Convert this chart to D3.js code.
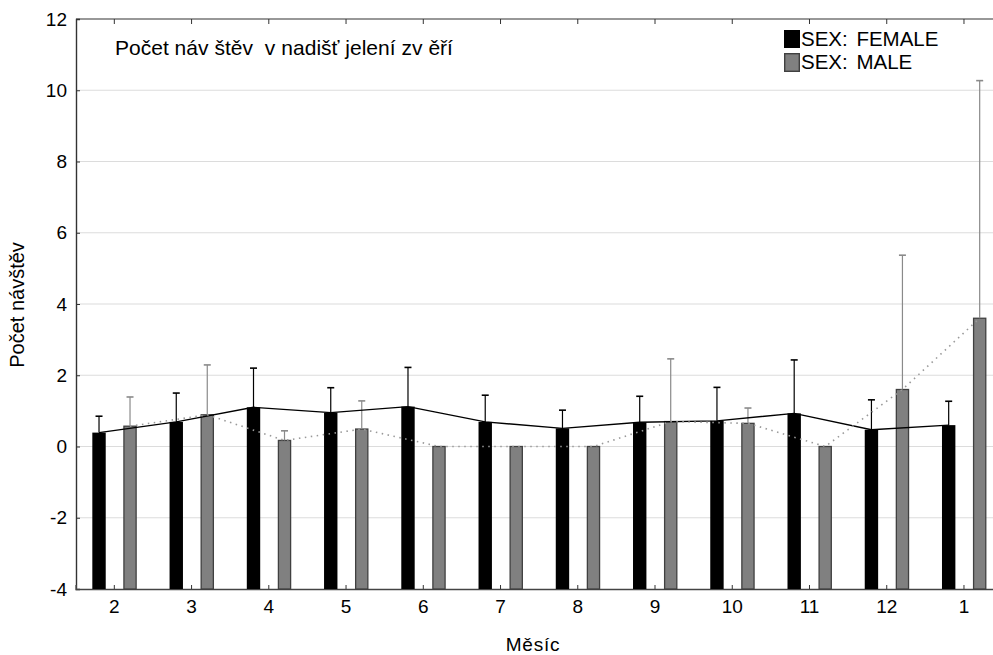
<!DOCTYPE html>
<html>
<head>
<meta charset="utf-8">
<script src="https://cdn.jsdelivr.net/npm/d3@7/dist/d3.min.js"></script>
<style>
  html, body { margin: 0; padding: 0; background: #fff; }
  svg text { font-family: "Liberation Sans", Arial, sans-serif; fill: #000; }
</style>
</head>
<body>
<svg id="chart" width="993" height="655"></svg>
<script>
// Months (bait-site monitoring season order)
const months = ["2", "3", "4", "5", "6", "7", "8", "9", "10", "11", "12", "1"];
// Mean visits per month
const female = [0.39, 0.69, 1.10, 0.95, 1.12, 0.69, 0.51, 0.68, 0.72, 0.93, 0.47, 0.60];
const male   = [0.57, 0.89, 0.17, 0.49, 0.00, 0.00, 0.00, 0.70, 0.65, 0.00, 1.60, 3.60];
// Upper error (added on top of the mean)
const femaleErr = [0.46, 0.81, 1.10, 0.70, 1.10, 0.75, 0.51, 0.73, 0.94, 1.50, 0.84, 0.67];
const maleErr   = [0.82, 1.40, 0.27, 0.79, 0.00, 0.00, 0.00, 1.76, 0.43, 0.00, 3.77, 6.67];
const yTicks = [-4, -2, 0, 2, 4, 6, 8, 10, 12];
const titleText = "Počet návštěv vnadišť jelení zvěří";
const seriesNames = ["SEX: FEMALE", "SEX: MALE"];

const svg = d3.select("#chart");
const plotLeft = 76, plotTop = 19, plotBottom = 589, plotRight = 1002.6;

const x = d3.scaleBand().domain(months).range([75.7, plotRight]).padding(0);
const y = d3.scaleLinear().domain([-4, 12]).range([plotBottom, plotTop]);
const cx = m => x(m) + x.bandwidth() / 2;
const barW = 13.4;
const fOff = -15.3, mOff = 15.7;

// grid
svg.append("g").selectAll("line").data(yTicks.filter(t => t > -4 && t < 12)).join("line")
  .attr("x1", plotLeft).attr("x2", 993)
  .attr("y1", d => y(d)).attr("y2", d => y(d))
  .attr("stroke", "#dcdcdc").attr("stroke-width", 1.2);

// frame: top line
svg.append("line").attr("x1", plotLeft).attr("x2", 993).attr("y1", plotTop).attr("y2", plotTop)
  .attr("stroke", "#333").attr("stroke-width", 1.2);

// y axis
const yAxis = d3.axisLeft(y).tickValues(yTicks).tickSize(-4).tickPadding(9);
const gy = svg.append("g").attr("transform", `translate(${plotLeft},0)`).call(yAxis);
gy.select(".domain").attr("stroke", "#333").attr("stroke-width", 1.4);
gy.selectAll(".tick line").attr("stroke", "#333");
gy.selectAll(".tick text").style("font-size", "19px").attr("fill", "#000")
  .text(d => d < 0 ? "-" + Math.abs(d) : String(d));

// x axis
const xAxis = d3.axisBottom(x).tickSize(-4).tickPadding(11);
const gx = svg.append("g").attr("transform", `translate(0,${plotBottom})`).call(xAxis);
gx.select(".domain").attr("stroke", "#444").attr("stroke-width", 1.6);
gx.selectAll(".tick line").attr("stroke", "#333");
gx.selectAll(".tick text").style("font-size", "19px").attr("fill", "#000");

// top ticks
svg.append("g").selectAll("line").data(months).join("line")
  .attr("x1", d => cx(d)).attr("x2", d => cx(d))
  .attr("y1", plotTop).attr("y2", plotTop + 5).attr("stroke", "#333");

// bars
svg.append("g").selectAll("rect").data(months).join("rect")
  .attr("x", d => cx(d) + fOff - barW / 2)
  .attr("width", barW)
  .attr("y", (d, i) => y(female[i]))
  .attr("height", (d, i) => y(-4) - y(female[i]))
  .attr("fill", "#000");
svg.append("g").selectAll("rect").data(months).join("rect")
  .attr("x", d => cx(d) + mOff - barW / 2 + 0.6)
  .attr("width", barW - 1.2)
  .attr("y", (d, i) => y(male[i]))
  .attr("height", (d, i) => y(-4) - y(male[i]))
  .attr("fill", "#808080").attr("stroke", "#404040").attr("stroke-width", 1.3);

// error bars
function errBars(vals, errs, off, color) {
  const g = svg.append("g").attr("stroke", color).attr("stroke-width", 1.2);
  months.forEach((m, i) => {
    if (errs[i] <= 0) return;
    const xc = cx(m) + off;
    g.append("line").attr("x1", xc).attr("x2", xc).attr("y1", y(vals[i])).attr("y2", y(vals[i] + errs[i]));
    g.append("line").attr("x1", xc - 3.5).attr("x2", xc + 3.5)
      .attr("y1", y(vals[i] + errs[i])).attr("y2", y(vals[i] + errs[i])).attr("stroke-width", 1.6);
  });
}
errBars(female, femaleErr, fOff, "#000");
errBars(male, maleErr, mOff, "#8a8a8a");

// connecting lines
const lineF = d3.line().x((d, i) => cx(months[i]) + fOff).y(d => y(d));
const lineM = d3.line().x((d, i) => cx(months[i]) + mOff).y(d => y(d));
svg.append("path").attr("d", lineF(female)).attr("fill", "none").attr("stroke", "#000").attr("stroke-width", 1.4);
svg.append("path").attr("d", lineM(male)).attr("fill", "none").attr("stroke", "#999")
  .attr("stroke-width", 1.6).attr("stroke-dasharray", "1.5,4.5");

// title, with the wide "v" spacing of the source font
const title = svg.append("text").attr("x", 115).attr("y", 55).style("font-size", "21px");
let prevV = false;
for (const ch of titleText) {
  const t = title.append("tspan").text(ch);
  if (prevV) t.attr("dx", 6);
  prevV = ch === "v";
}

// legend
const lg = svg.append("g");
lg.append("rect").attr("x", 784).attr("y", 30).attr("width", 16).attr("height", 18).attr("fill", "#000");
lg.append("rect").attr("x", 784.7).attr("y", 53.7).attr("width", 14.6).attr("height", 17.6)
  .attr("fill", "#808080").attr("stroke", "#404040").attr("stroke-width", 1.4);
lg.append("text").attr("x", 801).attr("y", 46).style("font-size", "20.5px").style("word-spacing", "3px").text(seriesNames[0]);
lg.append("text").attr("x", 801).attr("y", 69).style("font-size", "20.5px").style("word-spacing", "3px").text(seriesNames[1]);

// axis titles
svg.append("text").attr("x", 533).attr("y", 651).attr("text-anchor", "middle")
  .style("font-size", "19px").style("letter-spacing", "0.8px").text("Měsíc");
svg.append("text").attr("transform", "translate(24,305) rotate(-90)").attr("text-anchor", "middle")
  .style("font-size", "20px").text("Počet návštěv");
</script>
</body>
</html>
